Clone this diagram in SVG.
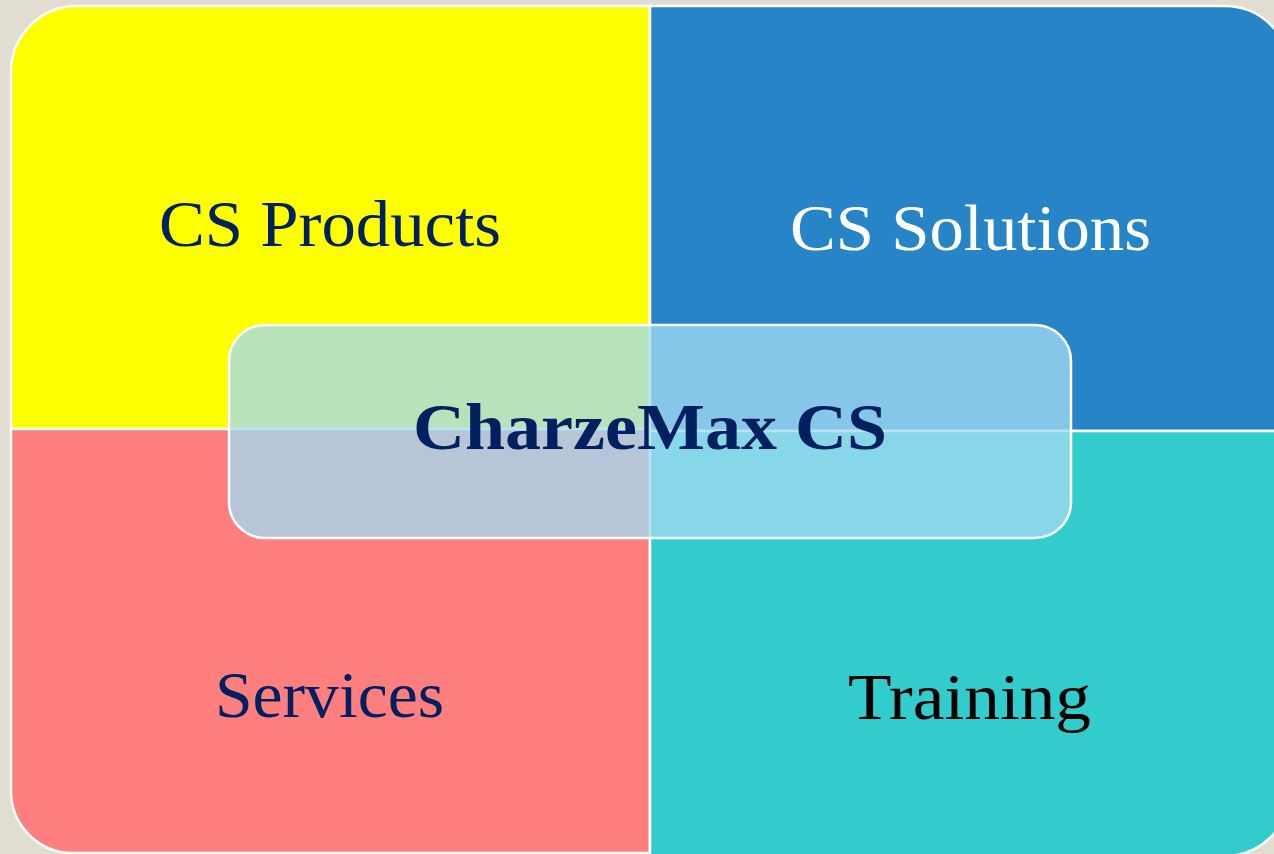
<svg xmlns="http://www.w3.org/2000/svg" width="1274" height="854" viewBox="0 0 1274 854">
<style>
.q{stroke:#FFFFFF;stroke-width:2.5}
.t{font-family:"Liberation Serif","Times New Roman",serif;font-size:66px;text-anchor:middle}
.navy{fill:#002060}
</style>
<rect x="0" y="0" width="1274" height="854" fill="#E2DDD3"/>
<g id="cs-products">
<path class="q" fill="#FFFF00" d="M11,72 A66,66 0 0 1 77,6 H650 V429 H11 Z"/>
<text class="t navy" x="330" y="246" textLength="342" lengthAdjust="spacingAndGlyphs">CS Products</text>
</g>
<g id="cs-solutions">
<path class="q" fill="#2784C7" d="M650,6 H1225 A65,65 0 0 1 1290,71 V431 H650 Z"/>
<text class="t" fill="#FFFFFF" x="970.5" y="250" textLength="361" lengthAdjust="spacingAndGlyphs">CS Solutions</text>
</g>
<g id="services">
<path class="q" fill="#FF7F7F" d="M11,429 H650 V853 H73 A62,62 0 0 1 11,791 Z"/>
<text class="t navy" x="329.5" y="717" textLength="229" lengthAdjust="spacingAndGlyphs">Services</text>
</g>
<g id="training">
<path class="q" fill="#33CCCC" d="M650,431 H1290 V791 A65,65 0 0 1 1225,856 H650 Z"/>
<text class="t" fill="#000000" x="969.5" y="719" textLength="243" lengthAdjust="spacingAndGlyphs">Training</text>
</g>
<g id="connectors"></g>
<g id="charzemax-cs">
<rect x="229" y="325" width="842" height="213" rx="36" fill="#A2DAF2" fill-opacity="0.77" stroke="#FFFFFF" stroke-width="2.5"/>
<text class="t navy" x="650" y="449" font-weight="bold" textLength="474" lengthAdjust="spacingAndGlyphs">CharzeMax CS</text>
</g>
</svg>
